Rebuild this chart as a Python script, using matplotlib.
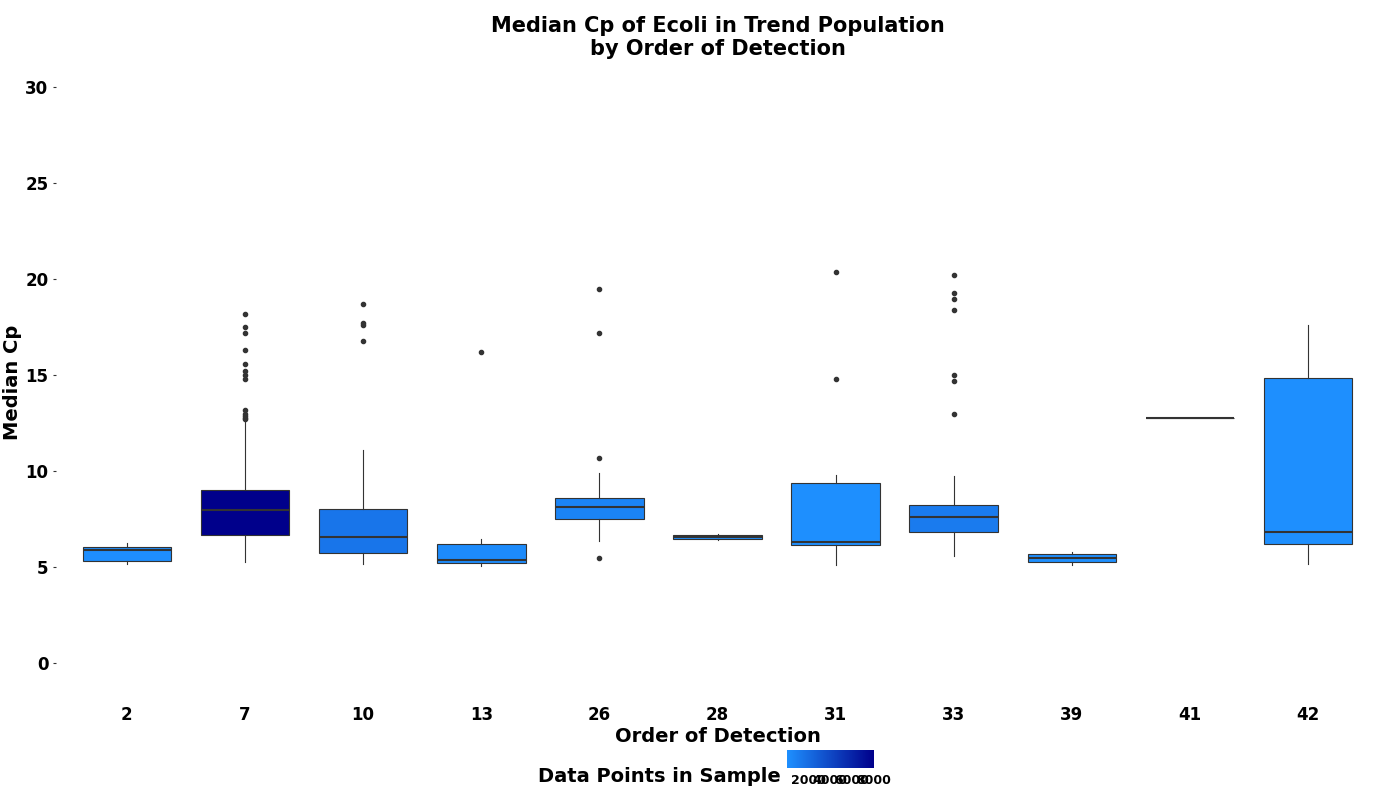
import matplotlib.pyplot as plt
import matplotlib as mpl
from matplotlib.colors import LinearSegmentedColormap, Normalize

plt.rcParams['font.family'] = ['DejaVu Sans']
plt.rcParams['font.weight'] = 'bold'

orders = ['2', '7', '10', '13', '26', '28', '31', '33', '39', '41', '42']
q1 = [5.33, 6.67, 5.74, 5.22, 7.50, 6.47, 6.16, 6.83, 5.28, 12.77, 6.21]
med = [5.90, 7.97, 6.57, 5.38, 8.12, 6.57, 6.31, 7.60, 5.48, 12.77, 6.83]
q3 = [6.05, 9.00, 8.02, 6.20, 8.59, 6.67, 9.41, 8.22, 5.69, 12.77, 14.85]
whislo = [5.17, 5.28, 5.17, 5.07, 6.36, 6.42, 5.12, 5.59, 5.12, 12.77, 5.17]
whishi = [6.26, 12.60, 11.10, 6.47, 9.93, 6.72, 9.83, 9.73, 5.80, 12.77, 17.60]
fliers = [
    [],
    [12.7, 12.8, 12.9, 13.0, 13.2, 14.8, 15.0, 15.2, 15.6, 16.3, 17.2, 17.5, 18.2],
    [16.8, 17.6, 17.7, 18.7],
    [16.2],
    [5.5, 10.7, 17.2, 19.5],
    [],
    [14.8, 20.4],
    [13.0, 14.7, 15.0, 18.4, 19.0, 19.3, 20.2],
    [],
    [],
    [],
]
counts = [120, 8000, 1500, 300, 700, 50, 100, 1200, 90, 10, 100]

cmap = LinearSegmentedColormap.from_list('blues', ['#1E90FF', '#00008B'])
norm = Normalize(vmin=min(counts), vmax=max(counts))

fig = plt.figure(figsize=(14, 8), dpi=100)
ax = fig.add_axes([0.04, 0.135, 0.945, 0.775])

stats = []
for i in range(len(orders)):
    stats.append(dict(q1=q1[i], med=med[i], q3=q3[i], whislo=whislo[i],
                      whishi=whishi[i], fliers=fliers[i]))
bp = ax.bxp(stats, positions=range(len(orders)), widths=0.75, patch_artist=True,
            showcaps=False,
            boxprops=dict(edgecolor='#333333', linewidth=0.8),
            medianprops=dict(color='#333333', linewidth=1.5),
            whiskerprops=dict(color='#333333', linewidth=0.8),
            flierprops=dict(marker='o', markersize=3, markerfacecolor='#333333',
                            markeredgecolor='#333333'))
for patch, c in zip(bp['boxes'], counts):
    patch.set_facecolor(cmap(norm(c)))

ax.set_ylim(-1.5, 30.8)
ax.set_xlim(-0.6, len(orders) - 0.4)
ax.set_yticks([0, 5, 10, 15, 20, 25, 30])
ax.set_xticks(range(len(orders)))
ax.set_xticklabels(orders)
for s in ax.spines.values():
    s.set_visible(False)
ax.tick_params(axis='x', length=0, labelsize=12, pad=10)
ax.tick_params(axis='y', length=2, labelsize=12, color='#333333')
for lab in ax.get_xticklabels() + ax.get_yticklabels():
    lab.set_fontweight('bold')
ax.set_xlabel('Order of Detection', fontsize=14, fontweight='bold', labelpad=2)
ax.set_ylabel('Median Cp', fontsize=14, fontweight='bold', labelpad=2)
ax.set_title('Median Cp of Ecoli in Trend Population\nby Order of Detection',
             fontsize=15, fontweight='bold', pad=12)

cax = fig.add_axes([0.562, 0.04, 0.062, 0.022])
cb = mpl.colorbar.ColorbarBase(cax, cmap=cmap, norm=norm, orientation='horizontal')
cb.set_ticks([2000, 4000, 6000, 8000])
cb.outline.set_visible(False)
cax.tick_params(length=3, color='white', labelsize=9, pad=1)
for lab in cax.get_xticklabels():
    lab.set_fontweight('bold')
fig.text(0.558, 0.022, 'Data Points in Sample', ha='right', fontsize=14, fontweight='bold')

fig.savefig('out.png')
